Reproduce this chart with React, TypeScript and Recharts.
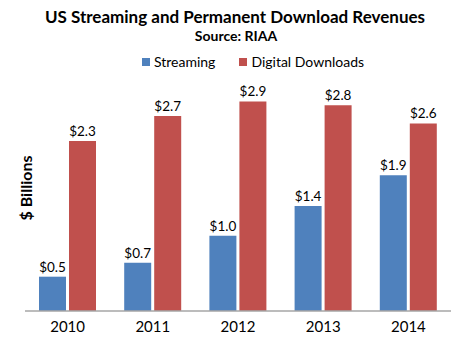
import React from 'react';
import { BarChart, Bar, XAxis, YAxis, LabelList } from 'recharts';

const years = ['2010', '2011', '2012', '2013', '2014'];
const streaming = [0.47, 0.66, 1.03, 1.44, 1.86];
const downloads = [2.33, 2.67, 2.87, 2.82, 2.57];
const seriesNames = ['Streaming', 'Digital Downloads'];
const seriesColors = ['#4F81BD', '#C0504D'];

const data = years.map((y, i) => ({ year: y, streaming: streaming[i], downloads: downloads[i] }));

const FONT = 'Lato, "Open Sans", sans-serif';

const fmt = (v: any) => `$${Number(v).toFixed(1)}`;

export default function App() {
  return (
    <div style={{ position: 'absolute', left: 0, top: 0, width: 468, height: 345, background: '#fff' }}>
      <BarChart width={468} height={345} data={data} margin={{ top: 92, right: 17, bottom: 4, left: 25 }} barGap={3}>
        <XAxis
          dataKey="year"
          tickLine={false}
          axisLine={{ stroke: '#A6A6A6', strokeWidth: 1.5 }}
          height={30}
          tickMargin={4}
          tick={{ fontSize: 15, fill: '#000', fontFamily: FONT }}
        />
        <YAxis hide domain={[0, 3]} />
        <Bar dataKey="streaming" name={seriesNames[0]} fill={seriesColors[0]} barSize={27} isAnimationActive={false}>
          <LabelList dataKey="streaming" position="top" offset={5} formatter={fmt} style={{ fontSize: 13.5, fill: '#000', fontFamily: FONT }} />
        </Bar>
        <Bar dataKey="downloads" name={seriesNames[1]} fill={seriesColors[1]} barSize={27} isAnimationActive={false}>
          <LabelList dataKey="downloads" position="top" offset={5} formatter={fmt} style={{ fontSize: 13.5, fill: '#000', fontFamily: FONT }} />
        </Bar>
      </BarChart>
      <div style={{ position: 'absolute', top: 54, left: 38, width: 430, display: 'flex', justifyContent: 'center', alignItems: 'center', fontFamily: FONT, fontSize: 14, color: '#000', lineHeight: '16px' }}>
        {seriesNames.map((n, i) => (
          <div key={n} style={{ display: 'flex', alignItems: 'center', marginRight: i === 0 ? 24 : 0 }}>
            <span style={{ display: 'inline-block', width: 8, height: 8, background: seriesColors[i], marginRight: 4 }} />
            <span>{n}</span>
          </div>
        ))}
      </div>
      <svg width={468} height={345} style={{ position: 'absolute', left: 0, top: 0, pointerEvents: 'none' }}>
        <text x={235} y={23} textAnchor="middle" fontFamily={FONT} fontWeight="bold" fontSize={17} fill="#000">
          US Streaming and Permanent Download Revenues
        </text>
        <text x={236} y={41} textAnchor="middle" fontFamily={FONT} fontWeight="bold" fontSize={14} fill="#000">
          Source: RIAA
        </text>
        <text x={27} y={188} dy={5} textAnchor="middle" transform="rotate(-90 27 188)" fontFamily={FONT} fontWeight="bold" fontSize={16} fill="#000">
          $ Billions
        </text>
      </svg>
    </div>
  );
}
